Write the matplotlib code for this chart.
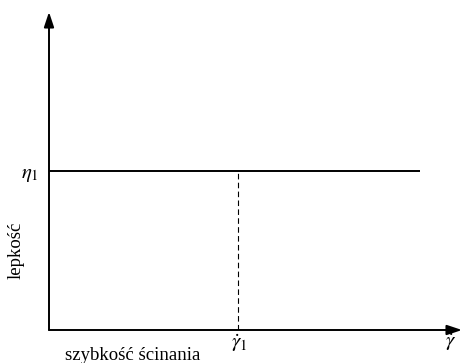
import matplotlib
matplotlib.use("Agg")
import matplotlib.pyplot as plt

# dane wykresu (jednostki umowne)
x_max = 10.0
y_max = 10.0
eta_1 = 5.0          # poziom lepkości
gamma_1 = 4.58       # szybkość ścinania (linia przerywana)
x_end = 8.98         # koniec linii lepkości

plt.rcParams['font.family'] = ['Liberation Serif', 'DejaVu Serif']
plt.rcParams['mathtext.fontset'] = 'stix'

fig = plt.figure(figsize=(4.64, 3.63), dpi=100)
ax = fig.add_axes([49 / 464, 33 / 363, 413 / 464, 318 / 363])
ax.set_xlim(0, x_max)
ax.set_ylim(0, y_max)
ax.axis('off')

# osie ze strzałkami
arrow = dict(arrowstyle='-|>,head_length=0.9,head_width=0.3', color='black', lw=1.4,
             shrinkA=0, shrinkB=0)
ax.annotate('', xy=(x_max, 0), xytext=(0, 0), arrowprops=arrow, annotation_clip=False)
ax.annotate('', xy=(0, y_max), xytext=(0, 0), arrowprops=arrow, annotation_clip=False)

# lepkość stała
ax.plot([0, x_end], [eta_1, eta_1], color='black', lw=1.4, solid_capstyle='butt')
ax.plot([gamma_1, gamma_1], [0, eta_1], color='black', lw=0.8, ls=(0, (5, 3)))

# opisy
ax.text(-0.46, eta_1 - 0.1, r'$\eta_1$', ha='center', va='center', fontsize=15)
ax.text(gamma_1 + 0.04, -0.41, r'$\dot{\gamma}_1$', ha='center', va='center', fontsize=15)
ax.text(9.73, -0.38, r'$\dot{\gamma}$', ha='center', va='center', fontsize=15)
ax.text(-0.8, 2.52, 'lepkość', rotation=90, ha='center', va='center', fontsize=13.5)
ax.text(2.03, -0.79, 'szybkość ścinania', ha='center', va='center', fontsize=13.5)

fig.savefig('out.png', dpi=100)
